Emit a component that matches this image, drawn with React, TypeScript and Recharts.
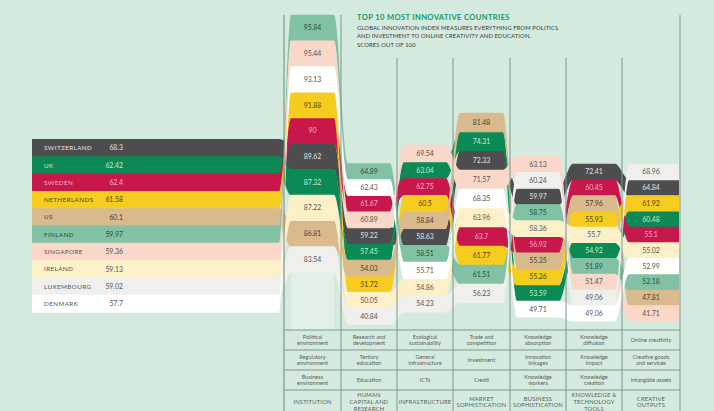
import React from 'react';
import { ComposedChart, Area, Scatter, XAxis, YAxis, ReferenceLine, ReferenceArea } from 'recharts';

// GII 2015, top 10
const countries = ['SWITZERLAND', 'UK', 'SWEDEN', 'NETHERLANDS', 'US', 'FINLAND', 'SINGAPORE', 'IRELAND', 'LUXEMBOURG', 'DENMARK'];
const overall = [68.3, 62.42, 62.4, 61.58, 60.1, 59.97, 59.36, 59.13, 59.02, 57.7];

// pillar scores, same country order as above
const institutions = [89.62, 87.32, 90, 91.88, 86.81, 95.84, 95.44, 87.22, 83.54, 93.13];
const humanCapital = [59.22, 57.45, 61.67, 51.72, 54.03, 64.89, 60.89, 50.05, 40.84, 62.43];
const infrastructure = [58.63, 63.04, 62.75, 60.5, 58.84, 58.51, 69.54, 54.86, 54.23, 55.71];
const marketSoph = [72.33, 74.31, 63.7, 61.77, 81.48, 61.51, 71.57, 63.96, 56.23, 68.35];
const businessSoph = [59.97, 53.59, 56.92, 55.26, 55.35, 58.75, 63.13, 58.36, 60.24, 49.71];
const knowledgeTech = [72.41, 54.92, 60.45, 55.93, 57.96, 51.89, 51.47, 55.7, 49.06, 49.06];
const creativeOutputs = [64.84, 60.48, 55.1, 61.92, 47.81, 52.18, 41.71, 55.02, 68.96, 52.99];

const pillars = [institutions, humanCapital, infrastructure, marketSoph, businessSoph, knowledgeTech, creativeOutputs];

const pillarNames = ['INSTITUTION', 'HUMAN\nCAPITAL AND\nRESEARCH', 'INFRASTRUCTURE', 'MARKET\nSOPHISTICATION', 'BUSINESS\nSOPHISTICATION', 'KNOWLEDGE &\nTECHNOLOGY\nTOOLS', 'CREATIVE\nOUTPUTS'];
const subPillars1 = ['Political\nenvironment', 'Research and\ndevelopment', 'Ecological\nsustainability', 'Trade and\ncompetition', 'Knowledge\nabsorption', 'Knowledge\ndiffusion', 'Online creativity'];
const subPillars2 = ['Regulatory\nenvironment', 'Tertiary\neducation', 'General\ninfrastructure', 'Investment', 'Innovation\nlinkages', 'Knowledge\nimpact', 'Creative goods\nand services'];
const subPillars3 = ['Business\nenvironment', 'Education', 'ICTs', 'Credit', 'Knowledge\nworkers', 'Knowledge\ncreation', 'Intangible assets'];

const colors = ['#4d4c4e', '#0b8a55', '#c8174b', '#f6cd1e', '#d8ba8c', '#80c2a3', '#f9d7c9', '#fcf0c9', '#efefec', '#ffffff'];
const textColors = ['#e4e4e4', '#c9ecd9', '#f6b3c8', '#4b4214', '#4a4032', '#2e4a3d', '#555', '#555', '#555', '#555'];

// layout (chart units = px)
const edges = [284, 341, 397, 453, 510, 566, 622, 680];
const stackTop = [28, 171.5, 153.5, 122.5, 164.3, 172, 172];
const stackStep = [25.7, 16.1, 16.7, 19, 16.1, 15.7, 15.7];
const tableTop = 148;
const tableStep = 17.3;
const rowLines = [330, 350, 370, 390];
const rowCentres = [340, 360, 380, 402];

const FONT = 'Lato, "Open Sans", sans-serif';

const rankOf = (vals: number[]) => {
  const order = vals.map((v, i) => i).sort((a, b) => vals[b] - vals[a]);
  return vals.map((_, i) => order.indexOf(i));
};
const ranks = pillars.map(rankOf);
const centre = (c: number, i: number) => stackTop[c] + ranks[c][i] * stackStep[c];

const band = (y: number, h: number) => [y + h / 2 + 0.3, y - h / 2 - 0.3];

const rows: any[] = [];
const addRow = (x: number, yOf: (i: number) => number, h: number) => {
  const r: any = { x };
  countries.forEach((_, i) => { r['c' + i] = band(yOf(i), h); });
  rows.push(r);
};
addRow(32, (i) => tableTop + i * tableStep, tableStep);
addRow(279, (i) => tableTop + i * tableStep, tableStep);
pillars.forEach((_, c) => {
  const start = c === 0 ? edges[c] + 7 : edges[c] + 7;
  const end = c === pillars.length - 1 ? edges[c + 1] : edges[c + 1] - 7;
  const mid = (edges[c] + edges[c + 1]) / 2;
  [start, mid, end].forEach((x) => addRow(x, (i) => centre(c, i), stackStep[c]));
});

const valueLabels: any[] = [];
pillars.forEach((vals, c) => {
  vals.forEach((v, i) => {
    valueLabels.push({ x: (edges[c] + edges[c + 1]) / 2, y: centre(c, i), text: String(v), color: textColors[i], size: 6.9, anchor: 'middle' });
  });
});
countries.forEach((name, i) => {
  const y = tableTop + i * tableStep;
  valueLabels.push({ x: 44, y, text: name, color: textColors[i], size: 6.3, anchor: 'start', ls: 0.4 });
  valueLabels.push({ x: 123, y, text: String(overall[i]), color: textColors[i], size: 6.9, anchor: 'end' });
});

const tableLabels: any[] = [];
[subPillars1, subPillars2, subPillars3, pillarNames].forEach((row, r) => {
  row.forEach((t, c) => {
    tableLabels.push({ x: (edges[c] + edges[c + 1]) / 2, y: rowCentres[r], text: t, color: '#56615b', size: r === 3 ? 5.8 : 5.6, anchor: 'middle', ls: r === 3 ? 0.2 : 0 });
  });
});

const TextMark = (p: any) => {
  const d = p.payload;
  const lines = String(d.text).split('\n');
  const lh = d.size * 1.18;
  const y0 = p.cy - ((lines.length - 1) * lh) / 2;
  return (
    <text textAnchor={d.anchor} fontSize={d.size} fill={d.color} fontFamily={FONT} letterSpacing={d.ls || 0}>
      {lines.map((l: string, k: number) => (
        <tspan key={k} x={p.cx} y={y0 + k * lh} dy="0.35em">{l}</tspan>
      ))}
    </text>
  );
};

const lineColor = '#7f978b';

export default function App() {
  return (
    <div style={{ position: 'fixed', left: 0, top: 0, width: 714, height: 411, background: '#d5eadf', overflow: 'hidden', fontFamily: FONT }}>
      <ComposedChart width={714} height={411} data={rows} margin={{ top: 0, right: 0, bottom: 0, left: 0 }}>
        <XAxis type="number" dataKey="x" domain={[0, 714]} hide allowDataOverflow />
        <YAxis type="number" dataKey="y" domain={[0, 411]} reversed hide allowDataOverflow />
        <ReferenceArea x1={291} x2={334} y1={262} y2={330} fill="#e1f1e8" fillOpacity={1} stroke="none" />
        {countries.map((c, i) => (
          <Area
            key={c}
            dataKey={'c' + i}
            type="monotoneX"
            fill={colors[i]}
            fillOpacity={1}
            stroke="none"
            dot={false}
            activeDot={false}
            isAnimationActive={false}
          />
        ))}
        <ReferenceLine segment={[{ x: edges[0], y: 15 }, { x: edges[0], y: 411 }]} stroke="#6f8579" strokeWidth={1} />
        <ReferenceLine segment={[{ x: edges[1], y: 15 }, { x: edges[1], y: 411 }]} stroke={lineColor} strokeWidth={1} />
        {edges.slice(2, 7).map((x) => (
          <ReferenceLine key={x} segment={[{ x, y: 58 }, { x, y: 411 }]} stroke={lineColor} strokeWidth={1} />
        ))}
        <ReferenceLine segment={[{ x: edges[7], y: 15 }, { x: edges[7], y: 411 }]} stroke="#a9c2b5" strokeWidth={2} />
        {rowLines.map((y) => (
          <ReferenceLine key={y} segment={[{ x: edges[0], y }, { x: edges[7], y }]} stroke={lineColor} strokeWidth={1} />
        ))}
        <Scatter data={valueLabels} shape={TextMark} isAnimationActive={false} />
        <Scatter data={tableLabels} shape={TextMark} isAnimationActive={false} />
      </ComposedChart>
      <div style={{ position: 'absolute', left: 357, top: 12, fontSize: 7.6, fontWeight: 700, color: '#17995c', letterSpacing: 0.35 }}>
        TOP 10 MOST INNOVATIVE COUNTRIES
      </div>
      <div style={{ position: 'absolute', left: 357, top: 24, fontSize: 5.9, lineHeight: '8.3px', color: '#3a3a3a', letterSpacing: 0.1 }}>
        GLOBAL INNOVATION INDEX MEASURES EVERYTHING FROM POLITICS<br />
        AND INVESTMENT TO ONLINE CREATIVITY AND EDUCATION.<br />
        SCORES OUT OF 100
      </div>
    </div>
  );
}
